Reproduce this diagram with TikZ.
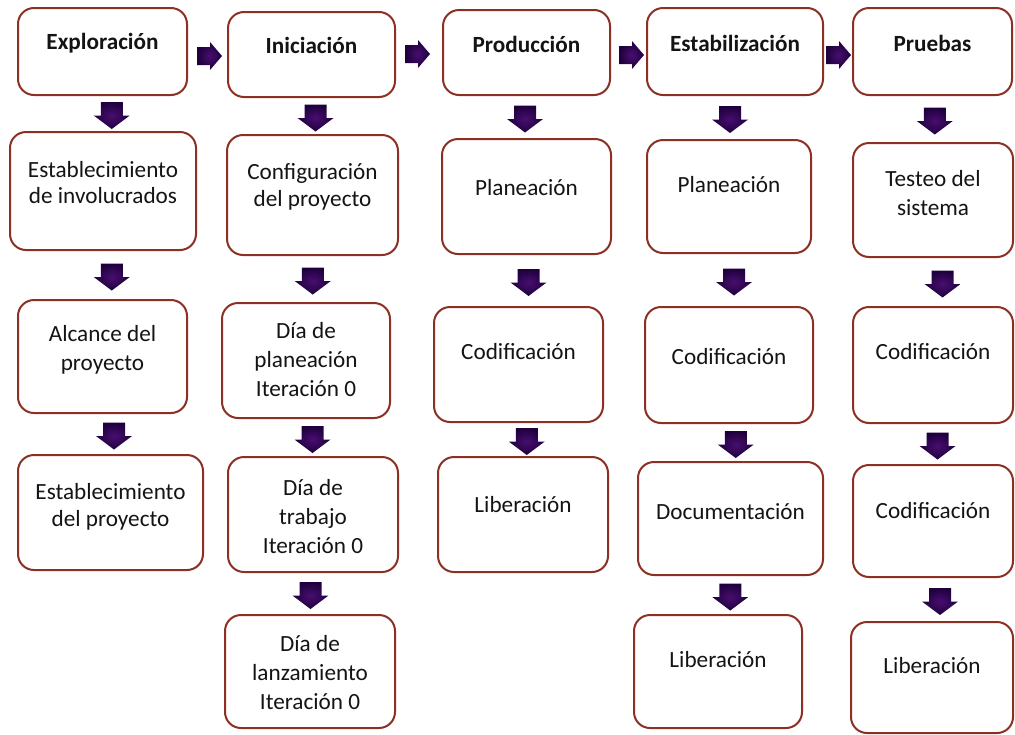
\documentclass[tikz,border=0pt]{standalone}
\usepackage{fontspec}
\setmainfont{Carlito}
\usetikzlibrary{calc,fit}

\definecolor{edge}{RGB}{140,48,35}
\definecolor{arrowdark}{RGB}{30,0,60}
\definecolor{arrowlight}{RGB}{72,14,112}
\definecolor{ink}{RGB}{20,20,20}

\tikzset{
  phase/.style={draw=edge, line width=1pt, rounded corners=8pt, fill=white, inner sep=0pt},
  phasetext/.style={align=center, text=ink, inner sep=0pt, font=\fontsize{11.6}{14.5}\selectfont},
  phasetitle/.style={phasetext, font=\fontsize{11.6}{14.5}\selectfont\bfseries},
  pics/downarr/.style={code={
    \shade[inner color=arrowlight, outer color=arrowdark]
      (-11,-13.5) -- (11,-13.5) -- (11,0) -- (18,0) -- (0,13.5) -- (-18,0) -- (-11,0) -- cycle;}},
  pics/rightarr/.style={code={
    \shade[inner color=arrowlight, outer color=arrowdark]
      (-12.5,-9) -- (0.5,-9) -- (0.5,-14) -- (12.5,0) -- (0.5,14) -- (0.5,9) -- (-12.5,9) -- cycle;}},
}

% box: name, text style, corners x1 y1 x2 y2, text offset, text
\newcommand\phasebox[8]{%
  \node[phase, fit={(#3,#4) (#5,#6)}] (#1) {};
  \node[#2] (#1-t) at ($(#1.center)+(0,#7)$) {#8};}
% block arrow from one box down to the next
\newcommand\downstep[3]{\pic at ($(#1.south)!0.5!(#2.north)+(#3,2)$) {downarr};}
% block arrow from one phase to the next
\newcommand\acrossstep[4]{\pic at ($(#1.east)!0.5!(#2.west)+(#3,#4)$) {rightarr};}

\begin{document}
\begin{tikzpicture}[x=0.5pt, y=-0.5pt]
\useasboundingbox (0,0) rectangle (1015,734);

% Exploración
\phasebox{e1}{phasetitle}{18}{8}{187}{95}{-8.5}{Exploración}
\phasebox{e2}{phasetext}{10}{132}{196}{250}{-8}{Establecimiento\\[-1.5pt]de involucrados}
\phasebox{e3}{phasetext}{18}{300}{187}{413}{-6.5}{Alcance del\\proyecto}
\phasebox{e4}{phasetext}{18}{455}{203}{570}{-6}{Establecimiento\\[-1pt]del proyecto}

% Iniciación
\phasebox{i1}{phasetitle}{228}{12}{395}{97}{-9.5}{Iniciación}
\phasebox{i2}{phasetext}{227}{135}{398}{255}{-8.5}{Configuración\\[-1pt]del proyecto}
\phasebox{i3}{phasetext}{222}{303}{390}{418}{-0.5}{Día de\\planeación\\Iteración 0}
\phasebox{i4}{phasetext}{228}{457}{398}{572}{2.5}{Día de\\trabajo\\Iteración 0}
\phasebox{i5}{phasetext}{225}{615}{395}{728}{1.5}{Día de\\lanzamiento\\Iteración 0}

% Producción
\phasebox{p1}{phasetitle}{443}{10}{610}{95}{-8.5}{Producción}
\phasebox{p2}{phasetext}{442}{139}{611}{254}{-8.5}{Planeación}
\phasebox{p3}{phasetext}{434}{307}{603}{422}{-12.5}{Codificación}
\phasebox{p4}{phasetext}{438}{457}{608}{572}{-9.5}{Liberación}

% Estabilización
\phasebox{s1}{phasetitle}{647}{8}{823}{95}{-8.5}{Estabilización}
\phasebox{s2}{phasetext}{647}{140}{811}{253}{-11.5}{Planeación}
\phasebox{s3}{phasetext}{645}{307}{813}{423}{-8}{Codificación}
\phasebox{s4}{phasetext}{638}{462}{823}{575}{-6.5}{Documentación}
\phasebox{s5}{phasetext}{634}{615}{802}{728}{-11.5}{Liberación}

% Pruebas
\phasebox{t1}{phasetitle}{853}{8}{1012}{95}{-8.5}{Pruebas}
\phasebox{t2}{phasetext}{853}{143}{1013}{257}{-6.5}{Testeo del\\sistema}
\phasebox{t3}{phasetext}{853}{307}{1013}{423}{-13}{Codificación}
\phasebox{t4}{phasetext}{853}{465}{1013}{577}{-10}{Codificación}
\phasebox{t5}{phasetext}{851}{622}{1013}{733}{-11.5}{Liberación}

% flow between phases
\acrossstep{e1}{i1}{2}{3}
\acrossstep{i1}{p1}{-1.5}{0.5}
\acrossstep{p1}{s1}{3}{3}
\acrossstep{s1}{t1}{0.5}{3.5}

% flow within each phase
\downstep{e1}{e2}{9}
\downstep{e2}{e3}{9}
\downstep{e3}{e4}{7.5}

\downstep{i1}{i2}{3.5}
\downstep{i2}{i3}{3.5}
\downstep{i3}{i4}{3}
\downstep{i4}{i5}{-1}

\downstep{p1}{p2}{-1.5}
\downstep{p2}{p3}{6}
\downstep{p3}{p4}{6}

\downstep{s1}{s2}{-2}
\downstep{s2}{s3}{5}
\downstep{s3}{s4}{6}
\downstep{s4}{s5}{6}

\downstep{t1}{t2}{2}
\downstep{t2}{t3}{9.5}
\downstep{t3}{t4}{4.5}
\downstep{t4}{t5}{7.5}
\end{tikzpicture}
\end{document}
